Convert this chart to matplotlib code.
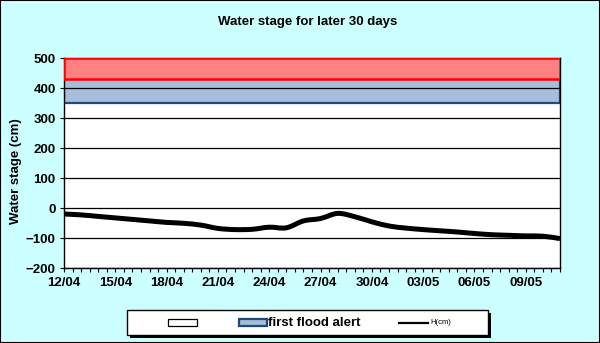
import matplotlib
matplotlib.use("Agg")
import matplotlib.pyplot as plt
import numpy as np
from matplotlib.patches import Rectangle, PathPatch
from matplotlib.lines import Line2D
from matplotlib.path import Path

plt.rcParams['font.family'] = ['Liberation Sans', 'DejaVu Sans']
plt.rcParams['font.weight'] = 'bold'

# daily water stage (cm), starting 12/04
days = np.arange(30)
stage = [-19, -22, -27, -32, -37, -42, -47, -50, -56, -67,
         -71, -70, -63, -65, -42, -34, -17, -28, -45, -59,
         -66, -71, -75, -79, -84, -88, -90, -92, -93, -101]
tick_days = [0, 3, 6, 9, 12, 15, 18, 21, 24, 27]
tick_labels = ["12/04", "15/04", "18/04", "21/04", "24/04",
               "27/04", "30/04", "03/05", "06/05", "09/05"]

# alert bands (cm)
first_alert = (350, 430)
second_alert = (430, 500)


def smooth_path(x, y):
    # cubic bezier segments through every point (catmull-rom tangents)
    p = np.column_stack([x, y]).astype(float)
    verts = [p[0]]
    codes = [Path.MOVETO]
    n = len(p)
    for i in range(n - 1):
        a = p[max(i - 1, 0)]
        b, c = p[i], p[i + 1]
        d = p[min(i + 2, n - 1)]
        verts += [b + (c - a) / 6, c - (d - b) / 6, c]
        codes += [Path.CURVE4] * 3
    return Path(verts, codes)


bg = '#CCFFFF'
fig = plt.figure(figsize=(6, 3.43), dpi=100, facecolor=bg)
fig.add_artist(Rectangle((0, 0), 1, 1, transform=fig.transFigure,
                         fill=False, ec='black', lw=1.5))

ax = fig.add_axes([64 / 600, 1 - 268.3 / 343, 496 / 600, 210 / 343])
ax.set_facecolor('white')

x0, x1 = days[0], days[-1]
ax.add_patch(Rectangle((x0, first_alert[0]), x1 - x0, first_alert[1] - first_alert[0],
                       fc='#A6BDDB', ec='#1F497D', lw=1.6, zorder=1))
ax.add_patch(Rectangle((x0, second_alert[0]), x1 - x0, second_alert[1] - second_alert[0],
                       fc='#FF8080', ec='#FF0000', lw=1.8, zorder=3))

ax.add_patch(PathPatch(smooth_path(days, stage), fill=False, ec='black',
                       lw=3.6, joinstyle='round', capstyle='butt', zorder=4))

ax.set_xlim(x0, x1)
ax.set_ylim(-200, 500)
ax.set_yticks(np.arange(-200, 501, 100))
ax.set_xticks(tick_days)
ax.set_xticklabels(tick_labels)
ax.set_xticks(np.arange(x0, x1 + 0.01, 0.5), minor=True)
ax.tick_params(axis='both', which='both', direction='out', length=3,
               width=0.8, labelsize=9.5, pad=3)
ax.tick_params(axis='y', which='minor', left=False)
ax.set_axisbelow(False)
ax.grid(axis='y', color='black', lw=0.9)
ax.set_ylabel("Water stage (cm)", fontsize=9.5, fontweight='bold', va='center')
ax.yaxis.set_label_coords(-0.097, 0.463)
for s in ax.spines.values():
    s.set_linewidth(1.0)

fig.text(308 / 600, 1 - 22.5 / 343, "Water stage for later 30 days",
         ha='center', va='center', fontsize=9.5, fontweight='bold')

# legend box with drop shadow
lx, ly, lw_, lh = 127, 310, 361, 25
fx = lambda px: px / 600
fy = lambda py: 1 - py / 343
fig.add_artist(Rectangle((fx(lx + 3), fy(ly + lh + 3)), lw_ / 600, lh / 343,
                         transform=fig.transFigure, fc='black', ec='none'))
fig.add_artist(Rectangle((fx(lx), fy(ly + lh)), lw_ / 600, lh / 343,
                         transform=fig.transFigure, fc='white', ec='black', lw=1))
hy = ly + 12.5
fig.add_artist(Rectangle((fx(168), fy(hy + 3.5)), 29 / 600, 7 / 343,
                         transform=fig.transFigure, fc='white', ec='black', lw=0.9))
fig.add_artist(Rectangle((fx(239), fy(hy + 3.5)), 28 / 600, 7 / 343,
                         transform=fig.transFigure, fc='#A6BDDB', ec='#1F497D', lw=1.6))
fig.text(fx(268), fy(hy), "first flood alert", ha='left', va='center',
         fontsize=9.5, fontweight='bold')
fig.add_artist(Line2D([fx(399), fx(428)], [fy(hy), fy(hy)],
                      transform=fig.transFigure, color='black', lw=1.6))
fig.text(fx(430), fy(hy), "H(cm)", ha='left', va='center', fontsize=5.5,
         fontweight='normal')

fig.savefig("out.png", dpi=100, facecolor=bg)
